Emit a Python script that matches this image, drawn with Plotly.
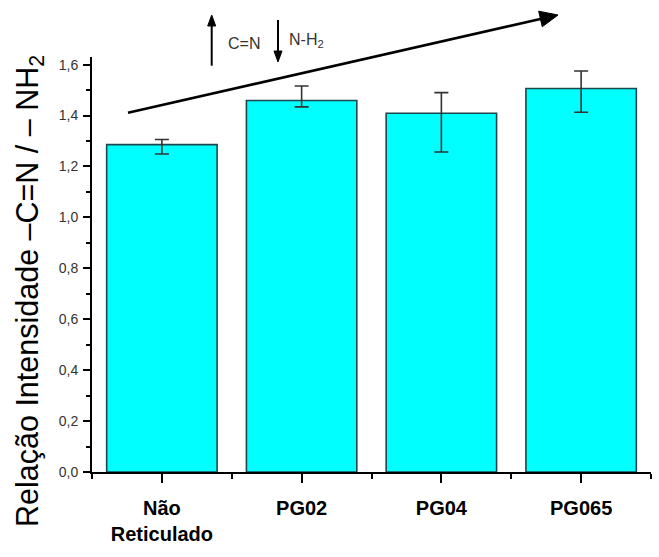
import plotly.graph_objects as go

# ---- data ----
categories = ["Não<br>Reticulado", "PG02", "PG04", "PG065"]
ratio = [1.286, 1.459, 1.409, 1.506]
err_plus = [0.020, 0.057, 0.081, 0.069]
err_minus = [0.037, 0.025, 0.152, 0.093]
y_tick_vals = [0.0, 0.2, 0.4, 0.6, 0.8, 1.0, 1.2, 1.4, 1.6]
y_tick_text = ["0,0", "0,2", "0,4", "0,6", "0,8", "1,0", "1,2", "1,4", "1,6"]
y_minor_vals = [0.1, 0.3, 0.5, 0.7, 0.9, 1.1, 1.3, 1.5]
x_pos = list(range(len(categories)))
x_minor_vals = [-0.5, 0.5, 1.5, 2.5, 3.5]

FONT = "Arial, Liberation Sans, sans-serif"
W, H = 659, 557
ML, MR, MT, MB = 92, 8, 57, 85
PW, PH = W - ML - MR, H - MT - MB


def px(X):
    return (X - ML) / PW


def py(Y):
    return (H - MB - Y) / PH


fig = go.Figure()
fig.add_trace(go.Bar(
    x=x_pos, y=ratio, width=0.79,
    marker=dict(color="#00FFFF", line=dict(color="#1d474d", width=1.6)),
    error_y=dict(type="data", symmetric=False, array=err_plus, arrayminus=err_minus,
                 color="#333333", thickness=1.6, width=7),
))

fig.update_layout(
    width=W, height=H,
    margin=dict(l=ML, r=MR, t=MT, b=MB, autoexpand=False),
    paper_bgcolor="white", plot_bgcolor="white",
    showlegend=False,
    font=dict(family=FONT, color="#000"),
    xaxis=dict(
        range=[-0.5, 3.5], tickmode="array", tickvals=x_pos, ticktext=categories,
        showline=True, linecolor="black", linewidth=2, showgrid=False, zeroline=False,
        ticks="outside", ticklen=9, tickwidth=2, tickcolor="black",
        ticklabelstandoff=8,
        minor=dict(tickmode="array", tickvals=x_minor_vals, ticks="outside",
                   ticklen=5, tickwidth=2, tickcolor="black"),
        tickfont=dict(family=FONT, size=20, color="black", weight="bold"),
    ),
    yaxis=dict(
        range=[0, 1.63], tickmode="array", tickvals=y_tick_vals, ticktext=y_tick_text,
        showline=True, linecolor="black", linewidth=2, showgrid=False, zeroline=False,
        ticks="outside", ticklen=7, tickwidth=2, tickcolor="black",
        ticklabelstandoff=2,
        minor=dict(tickmode="array", tickvals=y_minor_vals, ticks="outside",
                   ticklen=4, tickwidth=2, tickcolor="black"),
        tickfont=dict(family=FONT, size=14, color="#333333"),
    ),
)

# y-axis title
fig.add_annotation(
    xref="paper", yref="paper", x=px(29), y=py(291),
    text="Relação Intensidade –C=N / – NH<sub>2</sub>", textangle=-90,
    showarrow=False, xanchor="center", yanchor="middle",
    font=dict(family=FONT, size=30.5, color="black"),
)


def arrow(x0, y0, x1, y1, head_len, head_half, width):
    dx, dy = x1 - x0, y1 - y0
    L = (dx * dx + dy * dy) ** 0.5
    ux, uy = dx / L, dy / L
    bx, by = x1 - head_len * ux, y1 - head_len * uy
    nx, ny = -uy, ux
    fig.add_shape(type="line", xref="paper", yref="paper",
                  x0=px(x0), y0=py(y0), x1=px(bx + ux), y1=py(by + uy),
                  line=dict(color="black", width=width))
    c1 = (bx + head_half * nx, by + head_half * ny)
    c2 = (bx - head_half * nx, by - head_half * ny)
    path = "M{},{} L{},{} L{},{} Z".format(px(x1), py(y1), px(c1[0]), py(c1[1]),
                                          px(c2[0]), py(c2[1]))
    fig.add_shape(type="path", xref="paper", yref="paper", path=path,
                  fillcolor="black", line=dict(color="black", width=1))


# big trend arrow
arrow(128, 112.7, 558, 15, 18, 8, 2.6)
# up arrow (C=N)
arrow(211.7, 65.7, 211.7, 15, 11, 4, 2)
# down arrow (N-H2)
arrow(278, 20, 278, 62, 11, 4, 2)

fig.add_annotation(
    xref="paper", yref="paper", x=px(243.5), y=py(43), text="C=N",
    showarrow=False, xanchor="center", yanchor="middle",
    font=dict(family=FONT, size=16, color="#333333"),
)
fig.add_annotation(
    xref="paper", yref="paper", x=px(287), y=py(41), text="N-H<sub>2</sub>",
    showarrow=False, xanchor="left", yanchor="middle",
    font=dict(family=FONT, size=16, color="#333333"),
)

fig.write_html(
    "out.html",
    config={"displayModeBar": False},
    post_script="document.body.style.margin='0';document.body.style.padding='0';",
)
